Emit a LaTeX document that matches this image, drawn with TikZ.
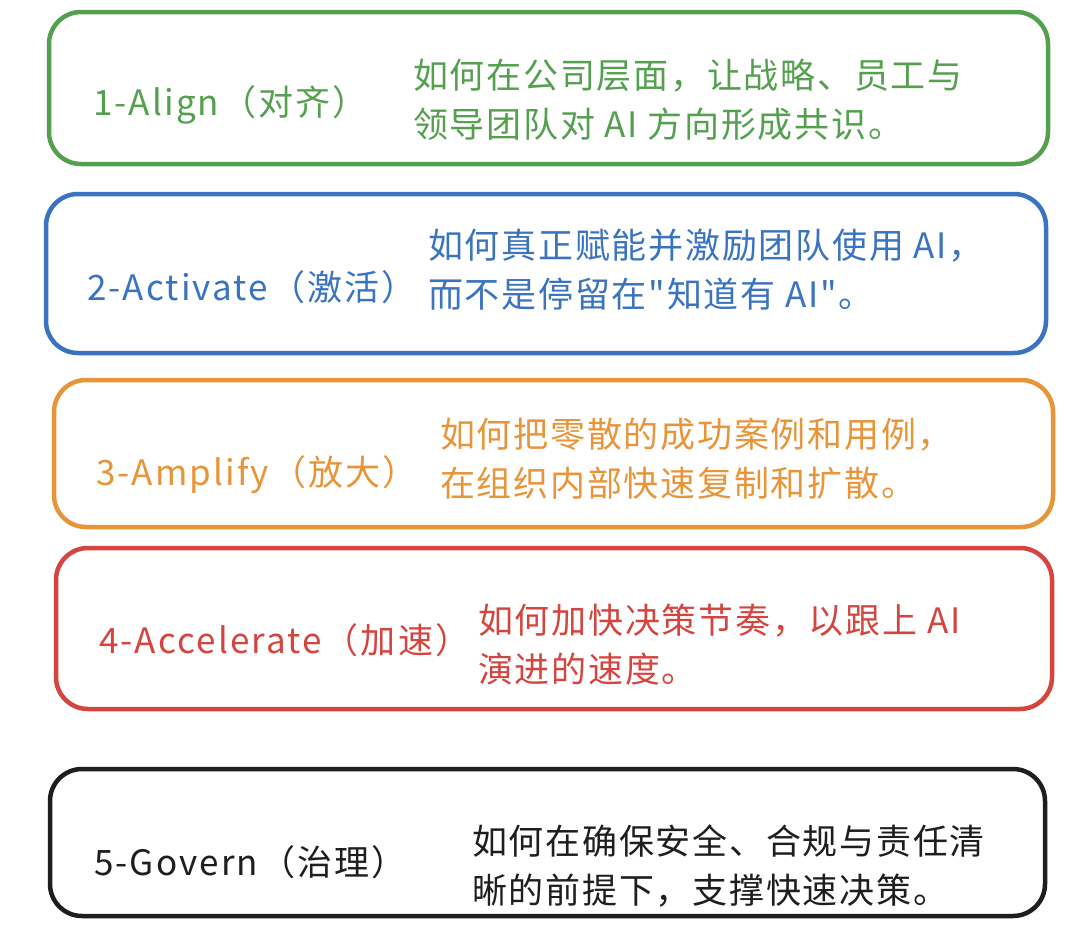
\documentclass[tikz,border=0pt]{standalone}
\usepackage{fontspec}
\newfontfamily\cjkl[LetterSpace=6]{Noto Sans CJK SC}
\newfontfamily\cjkd[LetterSpace=5]{Noto Sans CJK SC}
\definecolor{cgreen}{RGB}{84,160,79}
\definecolor{cblue}{RGB}{58,115,192}
\definecolor{corange}{RGB}{232,149,58}
\definecolor{cred}{RGB}{213,69,63}
\definecolor{cblack}{RGB}{30,30,30}
\tikzset{
  box/.style={draw, line width=4.5pt, rounded corners=32pt, inner sep=0pt},
  lbl/.style={anchor=west, inner sep=0pt, font=\cjkl\fontsize{35}{42}\selectfont},
  desc/.style={anchor=west, inner sep=0pt, align=left, font=\cjkd\fontsize{35}{49}\selectfont}
}
\begin{document}
\begin{tikzpicture}[x=1pt,y=-1pt]
\useasboundingbox[fill=white] (0,0) rectangle (1080,932);
% boxes
\node[box, draw=cgreen, minimum width=999pt, minimum height=152pt] (b1) at (548.5,88) {};
\node[box, draw=cblue, minimum width=1000pt, minimum height=159pt] (b2) at (546,273.5) {};
\node[box, draw=corange, minimum width=999pt, minimum height=147pt] (b3) at (553.5,453.5) {};
\node[box, draw=cred, minimum width=996pt, minimum height=161pt] (b4) at (554,628.5) {};
\node[box, draw=cblack, minimum width=995pt, minimum height=147pt] (b5) at (547.5,842.5) {};
% labels
\node[lbl, text=cgreen] (l1) at (93,105) {1-Align（对齐）};
\node[lbl, text=cblue] (l2) at (87,287) {2-Activate（激活）};
\node[lbl, text=corange] (l3) at (96,475) {3-Amplify（放大）};
\node[lbl, text=cred] (l4) at (99,640) {4-Accelerate（加速）};
\node[lbl, text=cblack] (l5) at (94,862) {5-Govern（治理）};
% descriptions
\node[desc, text=cgreen] (d1) at (413,100) {如何在公司层面，让战略、员工与\\领导团队对 AI 方向形成共识。};
\node[desc, text=cblue] (d2) at (428,270) {如何真正赋能并激励团队使用 AI，\\而不是停留在"知道有 AI"。};
\node[desc, text=corange] (d3) at (440,459) {如何把零散的成功案例和用例，\\在组织内部快速复制和扩散。};
\node[desc, text=cred] (d4) at (478,645) {如何加快决策节奏，以跟上 AI\\演进的速度。};
\node[desc, text=cblack] (d5) at (472,866) {如何在确保安全、合规与责任清\\晰的前提下，支撑快速决策。};
\end{tikzpicture}
\end{document}
